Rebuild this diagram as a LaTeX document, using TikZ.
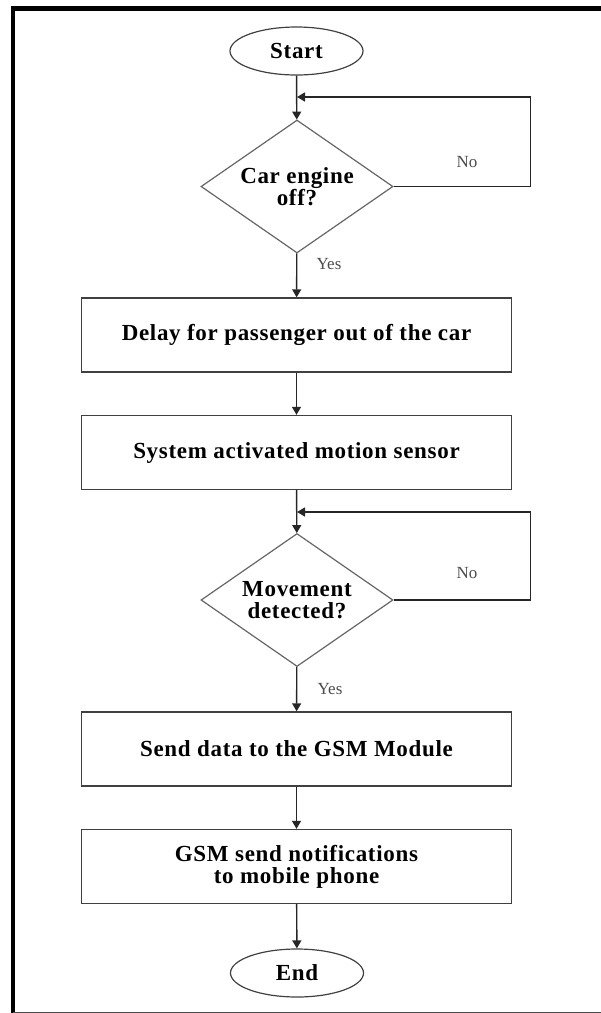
\documentclass[tikz,border=0pt]{standalone}
\usepackage{fontspec}
\setmainfont{Liberation Serif}
\newfontfamily\nodefont[LetterSpace=3]{Liberation Serif}
\usetikzlibrary{arrows.meta, shapes.geometric}

\begin{document}
\begin{tikzpicture}[x=1pt, y=-1pt,
        term/.style={draw=black!75, line width=1.2pt, ellipse, minimum width=133pt, minimum height=48pt, inner sep=0pt, font=\nodefont\fontsize{23}{22}\selectfont\bfseries},
        procbox/.style={draw=black!75, line width=1.4pt, rectangle, minimum width=430pt, minimum height=74pt, align=center, font=\nodefont\fontsize{23}{22}\selectfont\bfseries},
        decide/.style={draw=black!60, line width=1.2pt, diamond, aspect=1.44, minimum width=192pt, minimum height=133pt, inner sep=0pt, align=center, font=\nodefont\fontsize{23}{22}\selectfont\bfseries},
        arr/.style={-{Triangle[length=8pt, width=9pt]}, line width=1.4pt, draw=black!85},
        lbl/.style={text=black!70, font=\fontsize{17}{17}\selectfont}
    ]
        \useasboundingbox (0,0) rectangle (601,1013);
        % frame
        \draw[line width=4.5pt] (13,1013) -- (13,8.5) -- (601,8.5);
        \draw[black!70, line width=1pt] (13,1012) -- (601,1012);

        \node[term] (start) at (296.5,51) {Start};
        \node[decide] (engine) at (297,186.5) {Car engine\\off?};
        \node[procbox] (delay) at (296.5,335) {Delay for passenger out of the car};
        \node[procbox] (sensor) at (296.5,452.5) {System activated motion sensor};
        \node[decide] (motion) at (297,600) {Movement\\detected?};
        \node[procbox] (gsm) at (296.5,749) {Send data to the GSM Module};
        \node[procbox] (notify) at (296.5,866.5) {GSM send notifications\\to mobile phone};
        \node[term] (end) at (297,973) {End};

        \coordinate (join1) at (297,97);
        \coordinate (join2) at (297,512);

        \draw[arr] (start) -- (engine);
        \draw[arr] (engine) -- (delay);
        \draw[arr] (delay) -- (sensor);
        \draw[arr] (sensor) -- (motion);
        \draw[arr] (motion) -- (gsm);
        \draw[arr] (gsm) -- (notify);
        \draw[arr] (notify) -- (end);

        % loops back
        \draw[arr] (engine.east) -- ++(137,0) |- (join1);
        \draw[arr] (motion.east) -- ++(137,0) |- (join2);

        \node[lbl] (no1) at (467,162) {No};
        \node[lbl] (yes1) at (329,264) {Yes};
        \node[lbl] (no2) at (467,573) {No};
        \node[lbl] (yes2) at (330,689) {Yes};
\end{tikzpicture}
\end{document}
